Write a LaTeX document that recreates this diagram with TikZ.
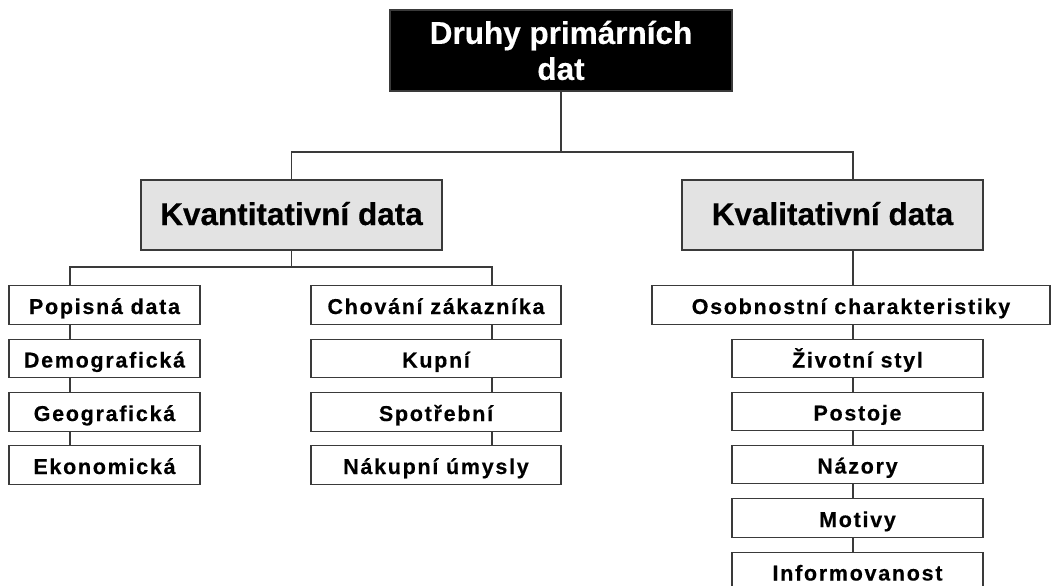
\documentclass[tikz,border=0pt]{standalone}
\usepackage{fontspec}
\setmainfont{Liberation Sans}
\newfontfamily\headfont[BoldFeatures={FakeBold=0.4}]{Liberation Sans}
\newfontfamily\itemfont[LetterSpace=8,BoldFeatures={FakeBold=0.4}]{Liberation Sans}
\definecolor{boxgray}{RGB}{227,227,227}
\definecolor{edge}{RGB}{58,58,58}
\begin{document}
\begin{tikzpicture}[x=1pt,y=-1pt,
  every node/.style={inner sep=0pt,outer sep=0pt},
  rootbox/.style={draw=edge,line width=1.3pt,fill=black,text=white,
    minimum width=342pt,minimum height=81pt,align=center,
    font=\headfont\bfseries\fontsize{31.5}{36}\selectfont},
  groupbox/.style={draw=edge,line width=1.3pt,fill=boxgray,text=black,
    minimum width=301pt,minimum height=70pt,
    text height=20pt,text depth=0pt,
    font=\headfont\bfseries\fontsize{31.5}{36}\selectfont},
  itembox/.style={draw=edge,line width=1.3pt,fill=white,text=black,
    minimum height=38.5pt,text height=18pt,text depth=0pt,
    font=\itemfont\bfseries\fontsize{21.5}{25}\selectfont},
  conn/.style={draw=edge,line width=1.2pt}]
\useasboundingbox (0,0) rectangle (1052,586);

% root and the two groups
\node[rootbox] (root) at (561,50.5) {Druhy primárních\\dat};
\node[groupbox] (kvant) at (291.5,215) {Kvantitativní data};
\node[groupbox] (kval) at (832.5,215) {Kvalitativní data};

% quantitative: descriptive data column
\node[itembox,minimum width=191pt] (popis) at (104.5,305) {Popisná data};
\node[itembox,minimum width=191pt] (demo) at (104.5,358.5) {Demografická};
\node[itembox,minimum width=191pt] (geo) at (104.5,412) {Geografická};
\node[itembox,minimum width=191pt] (eko) at (104.5,465) {Ekonomická};

% quantitative: customer behaviour column
\node[itembox,minimum width=250pt] (chov) at (436,305) {Chování zákazníka};
\node[itembox,minimum width=250pt] (kup) at (436,358.5) {Kupní};
\node[itembox,minimum width=250pt] (spot) at (436,412) {Spotřební};
\node[itembox,minimum width=250pt] (nak) at (436,465) {Nákupní úmysly};

% qualitative column
\node[itembox,minimum width=398pt] (osob) at (851,305) {Osobnostní charakteristiky};
\node[itembox,minimum width=251pt] (ziv) at (857.5,358.5) {Životní styl};
\node[itembox,minimum width=251pt] (post) at (857.5,411.5) {Postoje};
\node[itembox,minimum width=251pt] (naz) at (857.5,464.5) {Názory};
\node[itembox,minimum width=251pt] (mot) at (857.5,518) {Motivy};
\node[itembox,minimum width=251pt] (inf) at (857.5,571.5) {Informovanost};

% spine positions and bus levels
\coordinate (ax) at (853,0);
\coordinate (bx) at (70,0);
\coordinate (cx) at (492,0);
\coordinate (h1) at (0,152);
\coordinate (h2) at (0,267);

% root to groups
\draw[conn] (root.south) -- (root.south |- h1);
\draw[conn] (kvant.north) -- (kvant.north |- h1) -- (h1 -| ax) -- (kval.north -| ax);

% quantitative group to its two columns
\draw[conn] (kvant.south) -- (kvant.south |- h2);
\draw[conn] (popis.north -| bx) -- (h2 -| bx) -- (h2 -| cx) -- (chov.north -| cx);
\draw[conn] (popis.south -| bx) -- (demo.north -| bx);
\draw[conn] (demo.south -| bx) -- (geo.north -| bx);
\draw[conn] (geo.south -| bx) -- (eko.north -| bx);
\draw[conn] (chov.south -| cx) -- (kup.north -| cx);
\draw[conn] (kup.south -| cx) -- (spot.north -| cx);
\draw[conn] (spot.south -| cx) -- (nak.north -| cx);

% qualitative chain
\draw[conn] (kval.south -| ax) -- (osob.north -| ax);
\draw[conn] (osob.south -| ax) -- (ziv.north -| ax);
\draw[conn] (ziv.south -| ax) -- (post.north -| ax);
\draw[conn] (post.south -| ax) -- (naz.north -| ax);
\draw[conn] (naz.south -| ax) -- (mot.north -| ax);
\draw[conn] (mot.south -| ax) -- (inf.north -| ax);
\end{tikzpicture}
\end{document}
